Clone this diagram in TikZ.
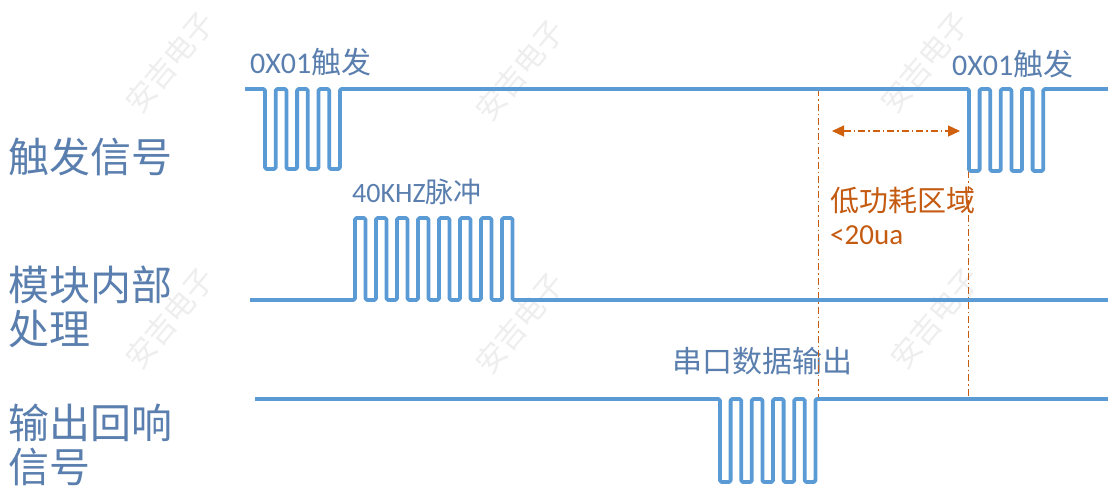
\documentclass[tikz,border=0pt]{standalone}
\usepackage{fontspec}
\setmainfont{Noto Sans CJK SC}
\newfontfamily\lat{Carlito}
\usetikzlibrary{arrows.meta}
\definecolor{wave}{HTML}{5B9BD5}
\definecolor{lbl}{HTML}{5A7FAE}
\definecolor{org}{HTML}{C55A11}
\definecolor{wm}{HTML}{EEEEEE}
\begin{document}
\begin{tikzpicture}[x=1pt,y=-1pt,
  wavepath/.style={draw=wave,line width=3.8pt,rounded corners=1.5pt,line join=round},
  sidelabel/.style={anchor=west,text=lbl,font=\fontsize{41}{44}\selectfont,align=left,inner sep=0pt},
  toplabel/.style={anchor=west,text=lbl,font=\fontsize{30}{32}\selectfont,inner sep=0pt},
  orglabel/.style={anchor=west,text=org,font=\fontsize{29}{32}\selectfont,inner sep=0pt},
  guide/.style={draw=org,line width=1pt,dash pattern=on 7pt off 3pt on 1.5pt off 3pt},
  wmark/.style={text=wm,font=\fontsize{30}{30}\selectfont,rotate=50,inner sep=0pt}]
\useasboundingbox (0,0) rectangle (1108,491);
\fill[white] (0,0) rectangle (1108,491);
% watermarks
\node[wmark] (w1) at (170,62) {安吉电子};
\node[wmark] (w2) at (520,70) {安吉电子};
\node[wmark] (w3) at (925,62) {安吉电子};
\node[wmark] (w4) at (170,318) {安吉电子};
\node[wmark] (w5) at (520,323) {安吉电子};
\node[wmark] (w6) at (935,318) {安吉电子};
% side labels
\node[sidelabel] (l1) at (8,157) {触发信号};
\node[sidelabel] (l2) at (8,307) {模块内部\\处理};
\node[sidelabel] (l3) at (8,445) {输出回响\\信号};
% top labels
\node[toplabel] (t1) at (250,62) {{\lat 0X01}触发};
\node[toplabel] (t2) at (952,64) {{\lat 0X01}触发};
\node[toplabel,font=\fontsize{28}{30}\selectfont] (t3) at (352,192) {{\lat 40KHZ}脉冲};
\node[toplabel] (t4) at (672,361) {串口数据输出};
\node[orglabel] (t5) at (830,201) {低功耗区域};
\node[orglabel] (t6) at (830,235) {{\lat <20ua}};
% guides
\coordinate (g1a) at (818,89);
\coordinate (g1b) at (818,399);
\coordinate (g2a) at (968,171);
\coordinate (g2b) at (968,399);
\draw[guide] (g1a) -- (g1b);
\draw[guide] (g2a) -- (g2b);
\coordinate (aL) at (832,131);
\coordinate (aR) at (960,131);
\draw[guide,line width=1.2pt,draw=org!85!orange,{Triangle[length=12pt,width=11pt,fill=org!80!orange]}-{Triangle[length=12pt,width=11pt,fill=org!80!orange]}] (aL) -- (aR);
% trigger waveform
\draw[wavepath] (245,89) -- (265,89) -- (265,169) -- (275.7,169) -- (275.7,89) -- (286.4,89) -- (286.4,169) -- (297.1,169) -- (297.1,89) -- (307.8,89) -- (307.8,169) -- (318.5,169) -- (318.5,89) -- (329.2,89) -- (329.2,169) -- (339.9,169) -- (339.9,89)
 -- (969,89) -- (969,171) -- (979.6,171) -- (979.6,89) -- (990.2,89) -- (990.2,171) -- (1000.8,171) -- (1000.8,89) -- (1011.4,89) -- (1011.4,171) -- (1022,171) -- (1022,89) -- (1032.6,89) -- (1032.6,171) -- (1043.2,171) -- (1043.2,89) -- (1108,89);
% internal processing waveform
\draw[wavepath] (250,300) -- (355,300) -- (355,218) -- (365.5,218) -- (365.5,300) -- (376,300) -- (376,218) -- (386.5,218) -- (386.5,300) -- (397,300) -- (397,218) -- (407.5,218) -- (407.5,300) -- (418,300) -- (418,218) -- (428.5,218) -- (428.5,300) -- (439,300) -- (439,218) -- (449.5,218) -- (449.5,300) -- (460,300) -- (460,218) -- (470.5,218) -- (470.5,300) -- (481,300) -- (481,218) -- (491.5,218) -- (491.5,300) -- (502,300) -- (502,218) -- (512.5,218) -- (512.5,300) -- (1108,300);
% output echo waveform
\draw[wavepath] (255,399) -- (720,399) -- (720,482) -- (730.6,482) -- (730.6,399) -- (741.2,399) -- (741.2,482) -- (751.8,482) -- (751.8,399) -- (762.4,399) -- (762.4,482) -- (773,482) -- (773,399) -- (783.6,399) -- (783.6,482) -- (794.2,482) -- (794.2,399) -- (804.8,399) -- (804.8,482) -- (815.4,482) -- (815.4,399) -- (1108,399);
\end{tikzpicture}
\end{document}
